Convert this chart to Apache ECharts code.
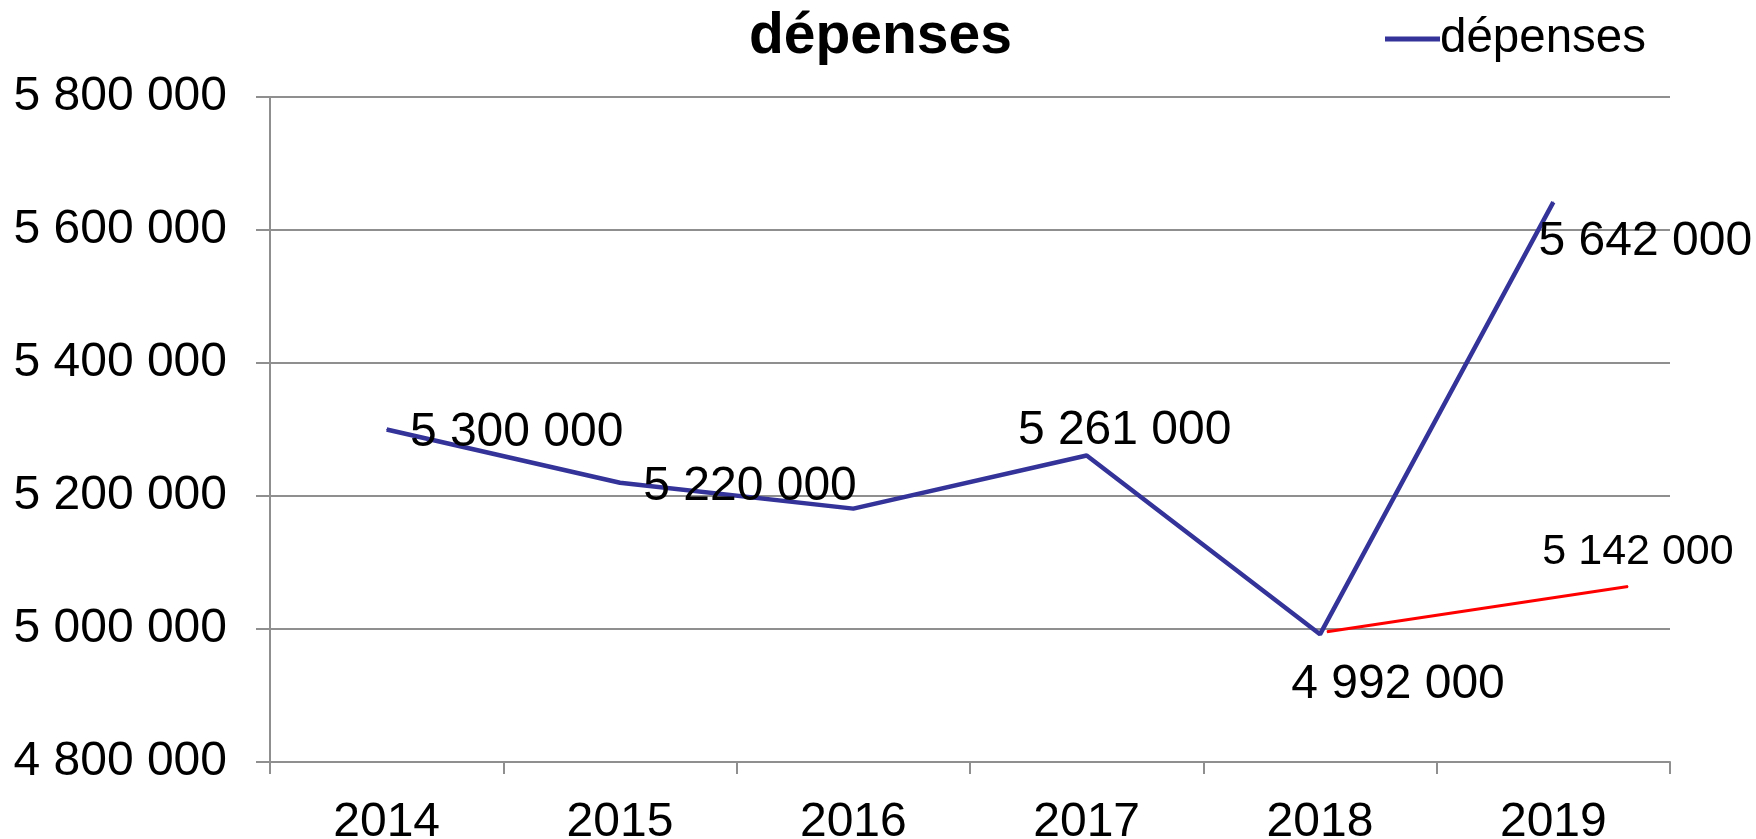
<!DOCTYPE html>
<html>
<head>
<meta charset="utf-8">
<script src="https://cdn.jsdelivr.net/npm/echarts@6/dist/echarts.min.js"></script>
<style>
html,body{margin:0;padding:0;background:#fff;}
#chart{width:1756px;height:839px;}
</style>
</head>
<body>
<div id="chart"></div>
<script>
var titleText = 'dépenses';
var seriesName = 'dépenses';
var categories = ['2014', '2015', '2016', '2017', '2018', '2019'];
var values = [5300000, 5220000, 5181000, 5261000, 4992000, 5642000];
var showLabel = [true, true, false, true, true, true];
var redX = [4.53, 5.82];
var redY = [4996000, 5064000];
var redLabels = ['', '5 142 000'];
var yMin = 4800000, yMax = 5800000, yStep = 200000;

function fmt(v) {
  return String(Math.round(v)).replace(/\B(?=(\d{3})+(?!\d))/g, ' ');
}

var labelOffsets = [[130, 3], [130, 4], [0, 0], [38, -25], [78, 50], [92, 40]];
var FONT = '"Liberation Sans", Arial, sans-serif';

var blueData = values.map(function (v, i) {
  return {
    value: v,
    label: {
      show: showLabel[i],
      position: 'inside',
      offset: labelOffsets[i],
      formatter: function (p) { return fmt(p.value); },
      color: '#000',
      fontSize: 48,
      fontFamily: FONT,
      align: 'center',
      verticalAlign: 'middle'
    }
  };
});

var redData = redX.map(function (x, i) {
  return {
    value: [x, redY[i]],
    label: {
      show: redLabels[i] !== '',
      position: 'inside',
      offset: [10, -34],
      formatter: redLabels[i],
      color: '#000',
      fontSize: 43,
      fontFamily: FONT,
      align: 'center',
      verticalAlign: 'middle'
    }
  };
});

var chart = echarts.init(document.getElementById('chart'), null, {renderer: 'canvas'});
chart.setOption({
  animation: false,
  backgroundColor: '#fff',
  title: {
    text: titleText,
    left: 744,
    top: 4,
    textStyle: {fontSize: 57, fontWeight: 'bold', fontFamily: FONT, color: '#000', lineHeight: 57}
  },
  legend: {
    data: [{name: seriesName, icon: 'rect'}],
    left: 1380,
    top: 10,
    itemWidth: 55,
    itemHeight: 5,
    itemGap: 5,
    textStyle: {fontSize: 47.5, fontFamily: FONT, color: '#000', padding: [0, 0, 0, -5]}
  },
  grid: {left: 270, right: 86, top: 97, bottom: 77, containLabel: false, outerBoundsMode: 'none'},
  xAxis: [{
    type: 'category',
    data: categories,
    boundaryGap: true,
    axisLine: {show: true, lineStyle: {color: '#8f8f8f', width: 2}},
    axisTick: {show: true, length: 12, inside: false, lineStyle: {color: '#8f8f8f', width: 2}},
    axisLabel: {fontSize: 48, fontFamily: FONT, color: '#000', margin: 37, lineHeight: 48},
    splitLine: {show: false}
  }, {
    type: 'value',
    min: 0, max: 6,
    show: false
  }],
  yAxis: {
    type: 'value',
    min: yMin, max: yMax, interval: yStep,
    axisLine: {show: true, lineStyle: {color: '#8f8f8f', width: 2}},
    axisTick: {show: true, length: 14, lineStyle: {color: '#8f8f8f', width: 2}},
    axisLabel: {fontSize: 48, fontFamily: FONT, color: '#000', margin: 43, formatter: function (v) { return fmt(v); }},
    splitLine: {show: true, lineStyle: {color: '#8f8f8f', width: 2}}
  },
  series: [{
    name: seriesName,
    type: 'line',
    data: blueData,
    symbol: 'circle',
    symbolSize: 1,
    showSymbol: true,
    color: '#333399',
    lineStyle: {color: '#333399', width: 4.5},
    itemStyle: {color: '#333399'},
    z: 3
  }, {
    name: 'red',
    type: 'line',
    xAxisIndex: 1,
    data: redData,
    symbol: 'circle',
    symbolSize: 1,
    showSymbol: true,
    lineStyle: {color: '#ff0000', width: 3},
    itemStyle: {color: '#ff0000'},
    z: 2
  }]
});
</script>
</body>
</html>
